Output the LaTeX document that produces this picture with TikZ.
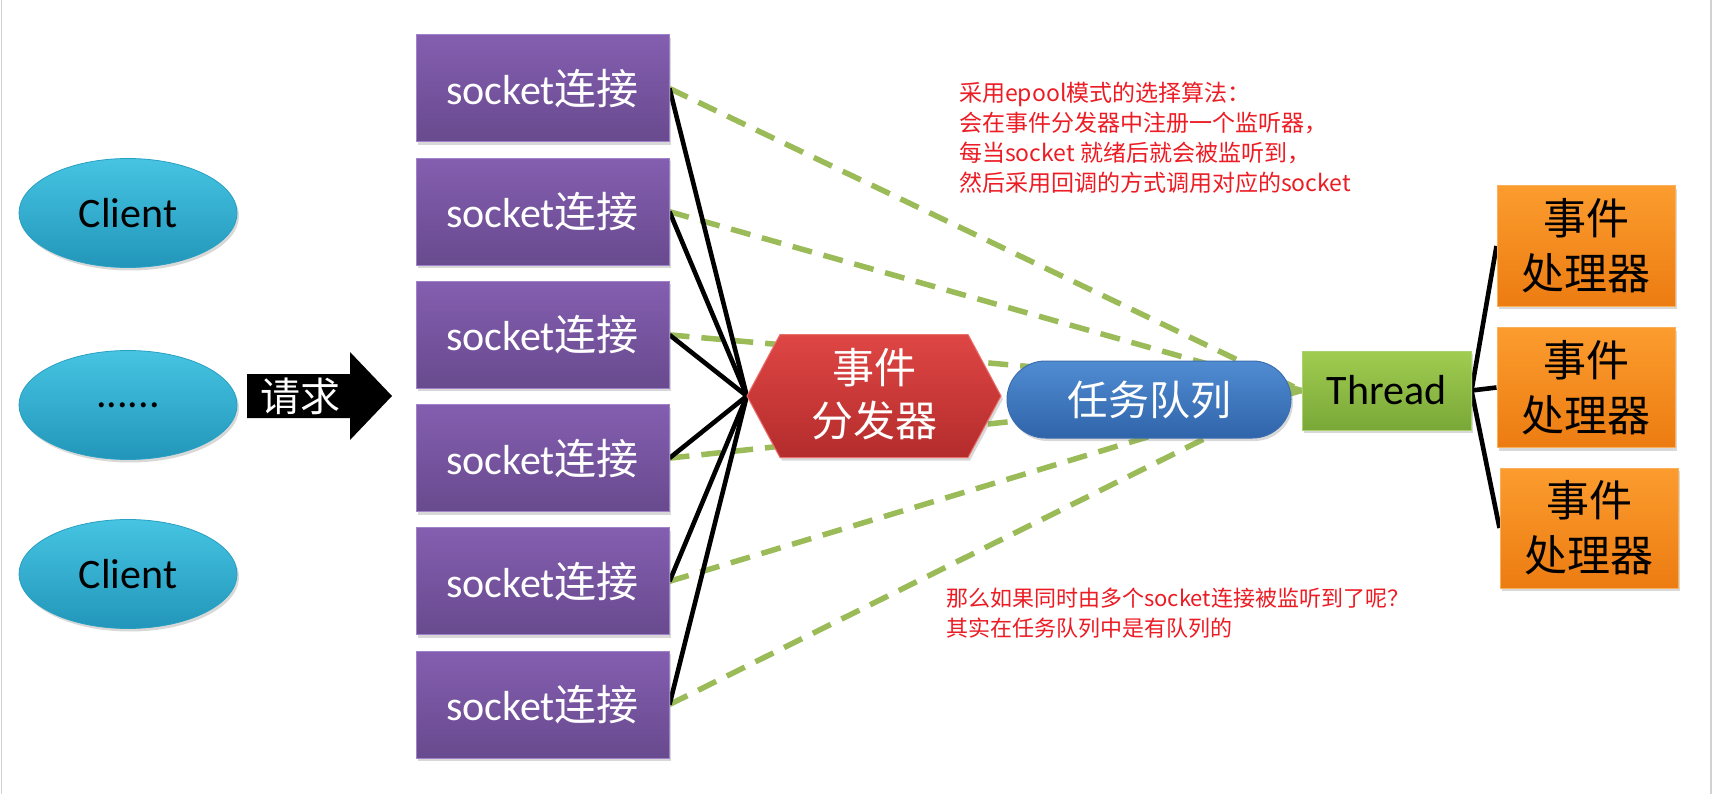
\documentclass[tikz,border=0pt]{standalone}
\usepackage{fontspec}
\setmainfont{Carlito}
\newfontfamily\cjk{Noto Sans CJK SC}
\usetikzlibrary{shapes.geometric,shadows,backgrounds}
\definecolor{sockT}{RGB}{132,94,176}
\definecolor{sockB}{RGB}{104,74,142}
\definecolor{sockE}{RGB}{160,130,200}
\definecolor{cliT}{RGB}{70,196,226}
\definecolor{cliB}{RGB}{34,150,186}
\definecolor{cliE}{RGB}{40,160,195}
\definecolor{hexT}{RGB}{222,70,68}
\definecolor{hexB}{RGB}{180,44,44}
\definecolor{hexE}{RGB}{235,110,105}
\definecolor{quT}{RGB}{80,140,210}
\definecolor{quB}{RGB}{48,100,170}
\definecolor{quE}{RGB}{60,110,175}
\definecolor{thT}{RGB}{160,204,80}
\definecolor{thB}{RGB}{122,168,56}
\definecolor{thE}{RGB}{170,210,110}
\definecolor{orT}{RGB}{252,156,46}
\definecolor{orB}{RGB}{236,124,18}
\definecolor{orE}{RGB}{250,175,90}
\definecolor{dashc}{RGB}{155,187,89}
\definecolor{redc}{RGB}{236,28,36}
\begin{document}
\begin{tikzpicture}[x=1pt,y=-1pt,
  shadowed/.style={drop shadow={shadow xshift=2pt,shadow yshift=-3pt,opacity=.3}},
  client/.style={ellipse,minimum width=218pt,minimum height=109pt,inner sep=0pt,
    top color=cliT,bottom color=cliB,draw=cliE,line width=0.8pt,
    font=\fontsize{42}{48}\selectfont,shadowed},
  sockbox/.style={rectangle,minimum width=253pt,minimum height=107pt,inner sep=0pt,
    top color=sockT,bottom color=sockB,draw=sockE,line width=1pt,text=white,
    font=\fontsize{42}{48}\selectfont,shadowed},
  qbox/.style={rectangle,rounded corners=38.5pt,minimum width=284pt,minimum height=77pt,
    inner sep=0pt,top color=quT,bottom color=quB,draw=quE,line width=1pt,text=white,
    font=\fontsize{41}{48}\selectfont\cjk,shadowed},
  thrbox/.style={rectangle,minimum width=169pt,minimum height=79pt,inner sep=0pt,
    top color=thT,bottom color=thB,draw=thE,line width=1pt,
    font=\fontsize{42}{48}\selectfont,shadowed},
  hbox/.style={rectangle,minimum width=178pt,minimum height=120pt,inner sep=0pt,
    top color=orT,bottom color=orB,draw=orE,line width=1pt,align=center,
    font=\fontsize{43}{55}\selectfont\cjk,shadowed},
  redtxt/.style={text=redc,font=\fontsize{22}{29.5}\selectfont\cjk,align=left,inner sep=0pt},
  gdash/.style={draw=dashc,line width=5.5pt,dash pattern=on 20pt off 12pt},
  blk/.style={draw=black,line width=4.6pt}
]
\useasboundingbox (0,0) rectangle (1715,794);

% clients
\node[client] (c1) at (128,213) {Client};
\node[client] (c2) at (128,405) {......};
\node[client] (c3) at (128,574) {Client};

% request arrow
\fill[black] (247,374) -- (350,374) -- (350,352) -- (392,396) -- (350,440) -- (350,418) -- (247,418) -- cycle;
\node[text=white,font=\fontsize{40}{44}\selectfont\cjk,inner sep=0pt] (req) at (300,396) {请求};

% socket boxes
\foreach \i in {0,...,5}
  \node[sockbox] (s\i) at (542.5,{88.5+123.2*\i}) {socket{\cjk 连接}};

% dispatcher hexagon
\shade[top color=hexT,bottom color=hexB,draw=hexE,line width=1pt,shadowed]
  (747,396) -- (780,334.5) -- (968,334.5) -- (1001,396) -- (968,457.5) -- (780,457.5) -- cycle;
\node[minimum width=254pt,minimum height=123pt,inner sep=0pt,align=center,text=white,
  font=\fontsize{42}{53}\selectfont\cjk] (disp) at (874,394) {事件\\分发器};

% queue, thread, handlers
\node[qbox] (q) at (1149,399.5) {任务队列};
\node[thrbox] (thr) at (1386.5,390.5) {Thread};
\node[hbox] (h1) at (1586,246) {事件\\处理器};
\node[hbox] (h2) at (1586,387.5) {事件\\处理器};
\node[hbox] (h3) at (1589,528) {事件\\处理器};

% notes
\node[redtxt,font=\fontsize{23}{29.8}\selectfont\cjk,anchor=north west] (note1) at (959,82)
  {采用epool模式的选择算法：\\会在事件分发器中注册一个监听器，\\每当socket 就绪后就会被监听到，\\然后采用回调的方式调用对应的socket};
\node[redtxt,anchor=north west] (note2) at (946,588)
  {那么如果同时由多个socket连接被监听到了呢？\\其实在任务队列中是有队列的};

\begin{pgfonlayer}{background}
  \fill[white] (0,0) rectangle (1715,794);
  \draw[gray!35,line width=1.5pt] (1.5,0) -- (1.5,794);
  \draw[gray!35,line width=1.5pt] (1711,0) -- (1711,794);
  \foreach \i in {0,...,5} \draw[gdash] (s\i.east) -- (thr.west);
  \foreach \i in {0,...,5} \draw[blk] (s\i.east) -- ([yshift=-2pt]disp.west);
  \foreach \i in {1,2,3} \draw[blk] (thr.east) -- (h\i.west);
\end{pgfonlayer}
\end{tikzpicture}
\end{document}
